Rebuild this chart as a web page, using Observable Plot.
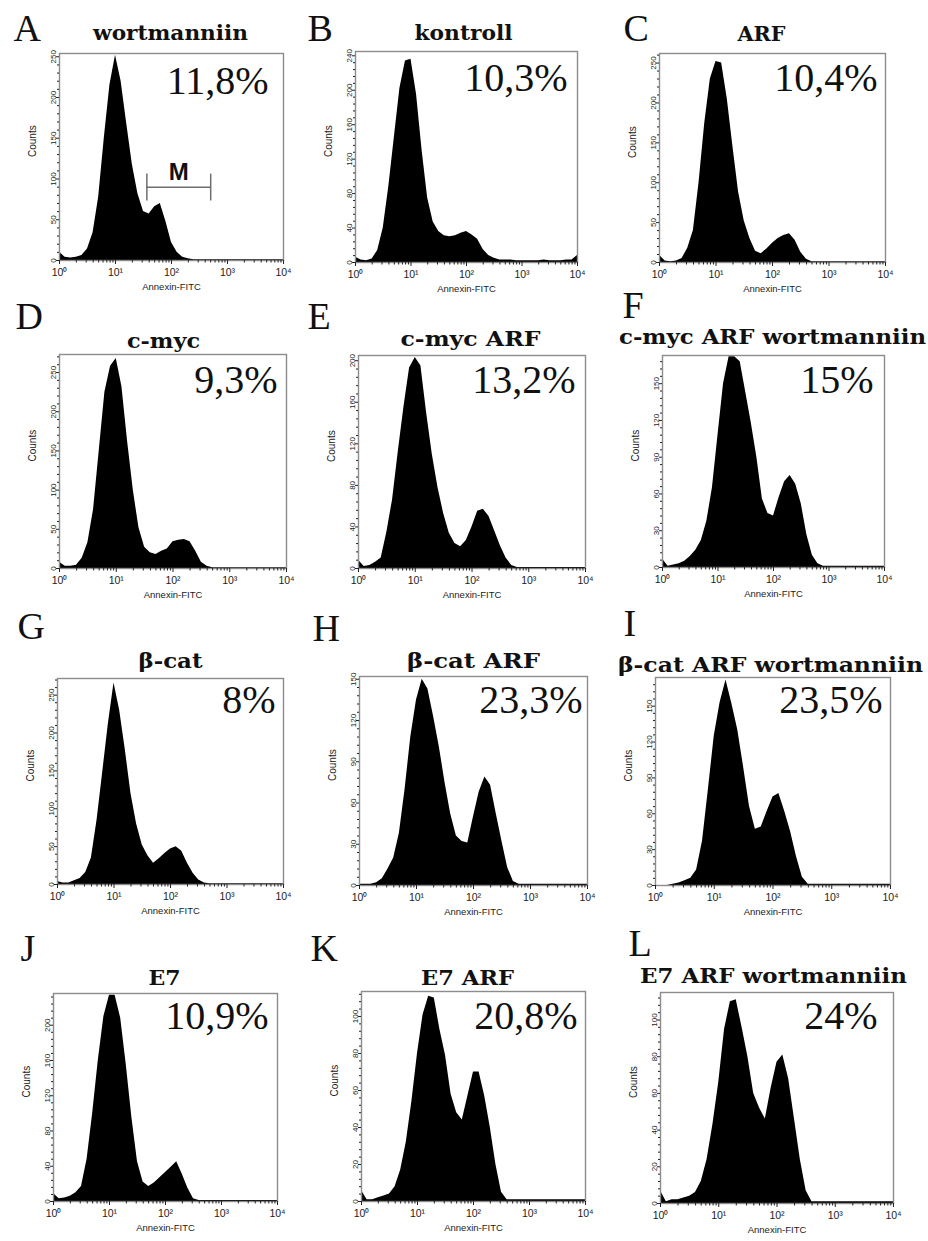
<!DOCTYPE html>
<html><head><meta charset="utf-8">
<script src="https://cdn.jsdelivr.net/npm/d3@7"></script>
<script src="https://cdn.jsdelivr.net/npm/@observablehq/plot@0.6"></script>
<style>
html,body{margin:0;padding:0;background:#fff;overflow:hidden}
#fig{position:relative;width:928px;height:1241px;background:#fff}
#fig svg{position:absolute;overflow:visible;background:transparent}
</style></head><body><div id="fig"></div>
<script>
// ---------- data ----------
const logFITC = [0,0.1,0.2,0.3,0.4,0.5,0.6,0.7,0.8,0.9,1,1.1,1.2,1.3,1.4,1.5,1.6,1.7,1.8,1.9,2,2.1,2.2,2.3,2.4,2.5,2.6,2.7,2.8,2.9,3,3.1,3.2,3.3,3.4,3.5,3.6,3.7,3.8,3.9,4];
const panelLetters = ["A","B","C","D","E","F","G","H","I","J","K","L"];
const panelTitles = ["wortmanniin","kontroll","ARF","c-myc","c-myc ARF","c-myc ARF wortmanniin","β-cat","β-cat ARF","β-cat ARF wortmanniin","E7","E7 ARF","E7 ARF wortmanniin"];
const apoptoticPercent = ["11,8%","10,3%","10,4%","9,3%","13,2%","15%","8%","23,3%","23,5%","10,9%","20,8%","24%"];
const countsA = [10,4,3,4,6,14,34,78,150,215,252,220,168,118,82,60,57,66,70,48,22,10,4,2,1,1,1,1,1,1,1,1,1,1,1,1,1,1,1,1,1];
const countsB = [6,3,2,4,14,40,88,145,202,234,236,195,130,75,47,36,31,30,31,34,36,32,27,15,8,5,3,3,3,2,2,2,2,2,3,2,2,2,3,3,8];
const countsC = [9,2,1,2,5,18,40,100,174,230,252,250,205,145,88,52,30,14,11,17,24,30,34,36,28,13,4,1,1,1,1,1,1,1,1,1,1,1,1,1,1];
const countsD = [8,3,3,4,13,33,75,150,225,258,268,232,162,100,52,27,20,18,22,25,34,36,37,34,22,8,3,1,1,1,1,1,1,1,1,1,1,1,1,1,1];
const countsE = [8,2,3,6,10,35,66,112,155,193,203,195,150,110,78,53,34,24,21,27,40,55,57,50,36,22,10,3,1,1,1,1,1,1,1,1,1,1,1,1,1];
const countsF = [7,1,2,3,5,9,14,22,38,65,108,150,172,172,168,143,118,90,56,44,42,57,70,75,68,52,27,10,3,1,1,1,1,1,1,1,1,1,1,1,1];
const countsG = [4,2,2,5,8,16,35,85,148,212,266,230,178,120,80,52,38,28,34,41,47,50,44,28,15,6,2,1,1,1,1,1,1,1,1,1,1,1,1,1,1];
const countsH = [1,1,1,2,5,12,20,38,70,108,135,150,143,123,101,75,52,36,32,31,50,68,79,73,52,32,13,3,1,1,1,1,1,1,1,1,1,1,1,1,1];
const countsI = [0,0,0,1,2,4,6,13,37,80,125,153,172,152,130,99,66,47,49,62,74,77,62,45,24,7,1,1,1,1,1,1,1,1,1,1,1,1,1,1,1];
const countsJ = [9,3,4,6,10,17,48,100,160,210,234,234,208,155,95,45,22,17,21,27,33,39,45,31,15,3,1,1,1,1,1,1,1,1,1,1,1,1,1,1,1];
const countsK = [6,1,1,2,3,4,8,17,32,54,80,101,111,110,93,79,58,48,44,57,70,70,57,40,20,5,1,1,1,1,1,1,1,1,1,1,1,1,1,1,1];
const countsL = [7,1,2,2,3,4,6,12,24,43,66,95,110,111,96,80,60,52,46,63,77,81,68,46,24,7,1,1,1,1,1,1,1,1,1,1,1,1,1,1,1];
const allCounts = [countsA,countsB,countsC,countsD,countsE,countsF,countsG,countsH,countsI,countsJ,countsK,countsL];
const countTicks = [
  [0,50,100,150,200,250],[0,40,80,120,160,200,240],[0,50,100,150,200,250],
  [0,50,100,150,200,250],[0,40,80,120,160,200],[0,30,60,90,120,150],
  [0,50,100,150,200,250],[0,30,60,90,120,150],[0,30,60,90,120,150],
  [0,40,80,120,160,200],[0,20,40,60,80,100],[0,20,40,60,80,100]];
const decadeTicks = [0,1,2,3,4];
const decadeLabels = ["10⁰","10¹","10²","10³","10⁴"];
const gateM = [1.56, 2.70];   // marker M (log10 Annexin-FITC)
const gateMLevel = 90;

// ---------- layout (pixels / styles) ----------
const frames = [
 [59,53,283,260],[355,51,577,262],[659,53,885,262],
 [59,354,286,568],[358,355,585,568],[662,355,884,567],
 [57,678,283,884],[359,676,587,885],[655,677,890,885],
 [53,993,277,1201],[361,991,585,1201],[660,992,893,1203]];
const yMax = [254,245,262,273,205,173,272,152,174,236,113.5,115];
const pctOffset = [[-15,40],[-10,39],[-8,37],[-9,38],[-10,37],[-11,37],[-8,34],[-5,36],[-8,35],[-9,35],[-8,37],[-16,36]];
const titleOffset = [[-1,-14],[-3,-12],[-11,-13],[-9.5,-7],[-1.5,-10],[-1,-12],[0,-11],[0,-9],[-2.5,-6],[-1,-9],[-6,-7],[-3.5,-10]];
const titleWidths = [155,98,48,73,140,307,64,133,305,32,93,267];
const letterOffset = [[-46,-13],[-48,-11],[-36,-13],[-44,-26],[-51,-27],[-40,-38],[-40,-40],[-47,-36],[-32,-42],[-33,-33],[-51,-31],[-32,-37]];
const mL = 56, mR = 46, mT = 72, mB = 42;

const fig = document.getElementById("fig");
const minorX = decadeTicks.slice(0,-1).flatMap(d => [2,3,4,5,6,7,8,9].map(k => d + Math.log10(k)));

allCounts.forEach((counts, i) => {
  const [L,T,R,B] = frames[i];
  const data = logFITC.map((e,k) => ({e, c: counts[k]}));
  const ticks = countTicks[i];
  const major = ticks[1] - ticks[0];
  const minorY = d3.range(0, yMax[i], major/5).filter(v => Math.abs(v/major - Math.round(v/major)) > 1e-6);
  const marks = [
    Plot.areaY(data, {x: "e", y: "c", fill: "#000", curve: "linear", clip: true}),
    Plot.frame({stroke: "#8c8c8c", strokeWidth: 1.4}),
    Plot.axisY({ticks, tickSize: 3, tickRotate: -90, tickPadding: 1, fontSize: 8, label: null, anchor: "left"}),
    Plot.axisY({ticks: minorY, tickSize: 2, tickFormat: () => "", label: null, anchor: "left"}),
    Plot.axisX({ticks: decadeTicks, tickFormat: d => decadeLabels[d], tickSize: 4, tickPadding: 4, fontSize: 10.5, label: null}),
    Plot.axisX({ticks: minorX, tickSize: 2.5, tickFormat: () => "", label: null}),
    Plot.text(["Counts"], {frameAnchor: "left", dx: -27, rotate: -90, fontSize: 10}),
    Plot.text(["Annexin-FITC"], {frameAnchor: "bottom", dy: 29, fontSize: 9.5}),
    Plot.text([apoptoticPercent[i]], {frameAnchor: "top-right", textAnchor: "end", lineAnchor: "bottom",
      dx: pctOffset[i][0], dy: pctOffset[i][1], fontSize: 40, fontFamily: "Liberation Serif, serif", fill: "#111"}),
    Plot.text([panelTitles[i]], {frameAnchor: "top", lineAnchor: "bottom",
      dx: titleOffset[i][0], dy: titleOffset[i][1], fontSize: 21, fontWeight: "bold", fontFamily: "DejaVu Serif, serif", fill: "#111"}),
    Plot.text([panelLetters[i]], {frameAnchor: "top-left", textAnchor: "start", lineAnchor: "bottom",
      dx: letterOffset[i][0], dy: letterOffset[i][1], fontSize: 38, fontFamily: "Liberation Serif, serif", fill: "#111"})
  ];
  if (i === 0) {
    marks.push(
      Plot.ruleY([gateMLevel], {x1: gateM[0], x2: gateM[1], stroke: "#6e6e6e", strokeWidth: 1.5}),
      Plot.ruleX(gateM, {y1: gateMLevel - 17, y2: gateMLevel + 16, stroke: "#6e6e6e", strokeWidth: 1.5}),
      Plot.text(["M"], {x: d3.mean(gateM), y: gateMLevel, dy: -7, lineAnchor: "bottom", fontSize: 24, fontWeight: "bold", fontFamily: "Liberation Sans, Arial, sans-serif", fill: "#111"})
    );
  }
  const svg = Plot.plot({
    width: R - L + mL + mR,
    height: B - T + mT + mB,
    marginLeft: mL, marginRight: mR, marginTop: mT, marginBottom: mB,
    x: {domain: [0, 4]},
    y: {domain: [0, yMax[i]]},
    style: {background: "transparent", overflow: "visible", fontFamily: "Liberation Sans, Arial, sans-serif", color: "#222"},
    marks
  });
  svg.style.left = (L - mL) + "px";
  svg.style.top = (T - mT) + "px";
  svg.querySelectorAll("text").forEach(t => {
    if (t.textContent === panelTitles[i]) {
      t.setAttribute("textLength", titleWidths[i]);
      t.setAttribute("lengthAdjust", "spacingAndGlyphs");
    }
  });
  fig.appendChild(svg);
});
</script>
</body></html>
